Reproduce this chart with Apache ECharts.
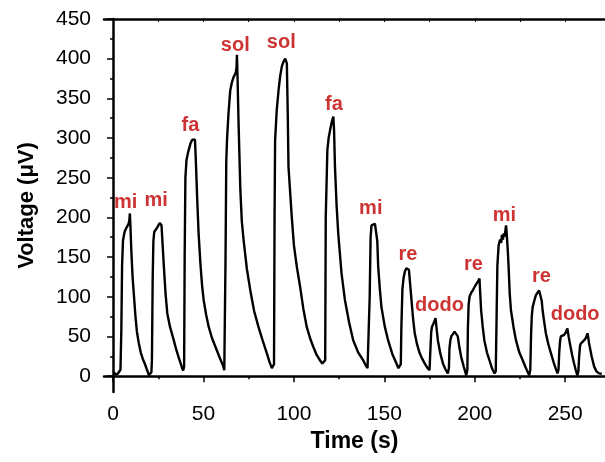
<!DOCTYPE html>
<html>
<head>
<meta charset="utf-8">
<script src="https://cdn.jsdelivr.net/npm/echarts@6/dist/echarts.min.js"></script>
<style>html,body{margin:0;padding:0;background:#fff}#c{width:605px;height:462px}</style>
</head>
<body>
<div id="c"></div>
<script>
// ---- data ----
const timeS = [
0.5,1.2,1.9,2.6,3.1,3.6,4.1,
4.6,5.0,5.5,6.4,7.2,7.9,8.6,9.0,9.3,9.6,10.1,10.8,11.6,12.4,13.2,14.2,15.3,16.4,17.5,18.6,19.4,19.8,20.5,21.2,
21.5,21.9,22.3,22.8,23.8,24.6,25.3,25.8,26.3,26.8,27.3,28.1,29.0,30.0,31.5,33.6,35.0,36.5,37.5,38.2,38.8,39.3,
39.6,40.0,40.6,41.5,42.8,43.8,44.6,45.3,45.8,46.5,47.3,48.3,49.2,50.1,51.5,52.9,54.7,56.6,58.5,60.3,61.0,61.5,61.9,
62.2,62.6,63.0,63.8,64.8,65.7,66.7,67.4,68.0,68.3,68.5,68.8,69.4,70.4,71.2,72.2,74.0,75.9,78.0,80.4,82.7,85.0,86.5,87.8,88.5,89.0,
89.3,89.6,90.5,91.5,92.4,93.3,94.2,95.2,96.1,96.6,97.0,98.8,100.0,101.6,103.4,105.2,107.1,108.9,110.7,112.5,114.4,115.7,116.6,117.3,
117.6,118.5,119.2,120.0,120.9,121.8,122.2,122.7,123.6,124.5,126.3,128.2,130.5,132.8,135.5,138.3,139.6,140.7,141.5,
141.9,142.4,142.9,143.8,144.8,145.7,146.1,146.6,147.5,148.4,150.2,152.1,154.4,156.7,157.8,158.5,159.1,
159.4,160.0,160.7,161.4,162.2,163.0,163.6,164.3,165.0,165.9,166.8,168.1,169.5,170.9,172.3,173.6,175.0,
175.4,175.9,176.3,177.3,178.3,178.9,179.6,181.0,182.4,183.7,185.1,185.7,
186.0,186.5,187.0,187.9,188.8,189.7,190.6,191.5,192.5,193.9,195.3,195.9,
196.2,196.6,197.1,198.0,198.9,199.8,200.8,201.7,202.6,203.0,203.5,204.4,205.3,206.7,208.1,209.5,210.9,211.6,
212.1,212.5,213.2,214.0,214.6,215.0,215.6,216.0,216.6,217.0,217.3,217.7,218.2,218.7,219.3,220.0,221.4,222.8,224.6,226.5,228.3,230.1,230.7,
231.1,231.5,232.0,232.9,233.8,234.7,235.6,236.5,237.0,237.5,238.4,239.3,240.7,242.1,243.9,245.7,246.3,
246.7,247.2,247.6,248.5,249.4,250.3,251.2,251.9,252.6,253.8,254.9,255.8,256.7,257.3,
257.7,258.2,258.6,259.5,260.4,261.4,262.3,262.8,263.2,264.6,266.0,267.3,268.7,269.6,270.2
];
const voltageUV = [
5,2,0,3,5,3,8,
60,140,171,182,186,189,192,196,205,190,159,125,100,75,56,42,30,22,16,9,4,1,3,5,
20,120,170,182,185,188,190,193,193,190,170,138,105,79,62,45,33,22,15,10,7,12,
150,250,272,282,293,298,300,298,270,225,180,142,115,96,77,62,48,37,26,16,12,7.5,10,
150,270,297,330,360,370,377,380,384,390,405,380,319,234,195,171,135,108,82,62,45,29,18,10,8,15,
200,297,335,360,378,390,396,400,394,330,264,201,165,138,113,85,62,48,37,27,20,16,14,20,
200,285,300,310,320,327,310,264,215,180,130,96,68,45,30,20,14,10,12,
100,175,190,192,192,192,170,138,110,87,63,45,28,16,10,7.5,15,
60,110,125,132,136,137,134,115,96,72,54,40,29,22,16,11,7.5,
30,55,62,67,73,60,45,28,16,9,3.4,10,
35,45,50,53,56,54,50,36,24,12,1,8,
60,90,100,105,108,112,116,119,123,105,83,62,45,30,20,10,3.4,6,
80,140,165,172,168,178,172,180,176,185,190,178,160,138,105,83,62,45,30,20,10,1,8,
50,75,87,95,102,105,108,107,95,83,68,54,40,29,15,3.4,8,
30,45,50,48,52,55,60,50,41,27,16,8,1,6,
25,38,41,40,45,48,54,48,41,25,12,6,3.4,4,3
];
const noteNames = ['mi','mi','fa','sol','sol','fa','mi','re','dodo','re','mi','re','dodo'];
const noteTime  = [7.0, 23.8, 42.8, 67.6, 93.0, 122.1, 142.5, 163.0, 180.5, 199.3, 216.4, 236.8, 255.5];
const noteVolt  = [219, 221, 316, 417, 420, 342, 211, 153, 89, 141, 203, 125, 77.5];
const xMajorTicks = [0, 50, 100, 150, 200, 250];
const xMinorTicks = [25, 75, 125, 175, 225];
const yMajorTicks = [0, 50, 100, 150, 200, 250, 300, 350, 400, 450];
const yMinorTicks = [25, 75, 125, 175, 225, 275, 325, 375, 425];
const xTitle = 'Time (s)';
const yTitle = 'Voltage (\u03bcV)';

// ---- chart ----
const FONT = "'Liberation Sans', Arial, sans-serif";
const X_MIN = -5, X_MAX = 272, Y_MIN = -20, Y_MAX = 450;
const lineData = timeS.map((t, i) => [t, voltageUV[i]]);
const noteData = noteNames.map((n, i) => ({ name: n, value: [noteTime[i], noteVolt[i]] }));
const axisLine = { show: true, lineStyle: { color: '#000', width: 2.5 } };

const chart = echarts.init(document.getElementById('c'), null, { renderer: 'canvas' });
chart.setOption({
  animation: false,
  backgroundColor: '#fff',
  grid: { left: 104, top: 19, right: 0, bottom: 70, containLabel: false },
  xAxis: [
    {
      type: 'value', min: X_MIN, max: X_MAX, position: 'bottom',
      axisLine: axisLine,
      axisTick: { show: true, length: 6, inside: false, customValues: xMajorTicks, lineStyle: { color: '#000', width: 1.5 } },
      axisLabel: { show: true, customValues: xMajorTicks, margin: 12, color: '#000', fontSize: 21, fontFamily: FONT },
      splitLine: { show: false },
      name: xTitle, nameLocation: 'middle', nameGap: 37,
      nameTextStyle: { color: '#000', fontSize: 23, fontWeight: 'bold', fontFamily: FONT }
    },
    {
      type: 'value', min: X_MIN, max: X_MAX, position: 'bottom',
      axisLine: { show: false },
      axisTick: { show: true, length: 3, customValues: xMinorTicks, lineStyle: { color: '#000', width: 1.5 } },
      axisLabel: { show: false }, splitLine: { show: false }
    },
    {
      type: 'value', min: X_MIN, max: X_MAX, position: 'top',
      axisLine: axisLine,
      axisTick: { show: true, inside: true, length: 3, customValues: xMajorTicks.concat(xMinorTicks), lineStyle: { color: '#000', width: 1 } },
      axisLabel: { show: false }, splitLine: { show: false }
    }
  ],
  yAxis: [
    {
      type: 'value', min: Y_MIN, max: Y_MAX, position: 'left',
      axisLine: axisLine,
      axisTick: { show: true, length: 6, customValues: yMajorTicks, lineStyle: { color: '#000', width: 1.5 } },
      axisLabel: { show: true, customValues: yMajorTicks, margin: 13, color: '#000', fontSize: 21, fontFamily: FONT },
      splitLine: { show: false },
      name: yTitle, nameLocation: 'middle', nameGap: 66, nameRotate: 90,
      nameTextStyle: { color: '#000', fontSize: 22, fontWeight: 'bold', fontFamily: FONT }
    },
    {
      type: 'value', min: Y_MIN, max: Y_MAX, position: 'left',
      axisLine: { show: false },
      axisTick: { show: true, length: 3, customValues: yMinorTicks, lineStyle: { color: '#000', width: 1.5 } },
      axisLabel: { show: false }, splitLine: { show: false }
    }
  ],
  series: [
    {
      type: 'line', xAxisIndex: 0, yAxisIndex: 0, data: lineData,
      showSymbol: false, symbol: 'none', smooth: false,
      lineStyle: { color: '#000', width: 2.4 }, z: 3
    },
    {
      type: 'scatter', xAxisIndex: 0, yAxisIndex: 0, data: noteData,
      symbolSize: 0, silent: true, z: 4,
      label: {
        show: true, position: 'inside', formatter: p => p.name,
        color: '#C00000', fontSize: 20, fontWeight: 'bold', fontFamily: FONT
      }
    }
  ]
});
</script>
</body>
</html>
